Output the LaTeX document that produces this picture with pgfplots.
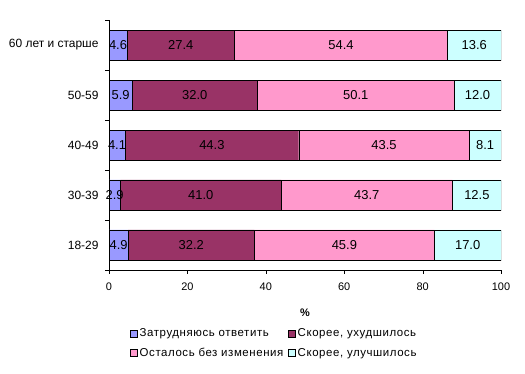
\documentclass[border=0pt]{standalone}
\usepackage{fontspec}
\setmainfont{Liberation Sans}
\newfontfamily\legfont[LetterSpace=5]{Liberation Sans}
\usepackage{pgfplots}
\usepackage{pgfplotstable}
\pgfplotsset{compat=1.18}
\definecolor{c1}{HTML}{9999FF}
\definecolor{c2}{HTML}{993366}
\definecolor{c3}{HTML}{FF99CC}
\definecolor{c4}{HTML}{CCFFFF}
\pgfplotstableread{
y a b c d
0 4.9 32.2 45.9 17.0
1 2.9 41.0 43.7 12.5
2 4.1 44.3 43.5 8.1
3 5.9 32.0 50.1 12.0
4 4.6 27.4 54.4 13.6
}\data
\pgfplotsset{common/.style={
  at={(109bp,104bp)}, anchor=south west,
  scale only axis, width=392bp, height=250bp,
  xmin=0, xmax=100, ymin=-0.5, ymax=4.5}}
\begin{document}
\begin{tikzpicture}[font=\fontsize{11}{13}\selectfont]
\path (0,0) rectangle (525bp,374bp);
\begin{axis}[
  common,
  xbar stacked, bar width=30bp,
  xtick={0,20,...,100},
  ytick={0,1,2,3,4},
  yticklabels={18-29,30-39,40-49,50-59,60 лет и старше},
  minor ytick={-0.5,0.5,1.5,2.5,3.5,4.5},
  major y tick style={draw=none},
  minor y tick style={black},
  major x tick style={black},
  tick align=outside,
  major tick length=4bp, minor tick length=4bp,
  axis x line*=bottom, axis y line*=left,
  axis line style={-, black},
  xlabel={\bfseries\%},
  xlabel style={yshift=-12bp},
  xticklabel style={yshift=-5bp, font=\fontsize{11}{13}\selectfont},
  yticklabel style={xshift=-3bp, font=\fontsize{12}{14}\selectfont},
  /pgf/number format/assume math mode=true,
  legend columns=2,
  legend cell align=left,
  legend style={draw=none, fill=none, at={(0.422,-0.218)}, anchor=north, row sep=6bp,
    font=\legfont\fontsize{11.5}{13}\selectfont,
    /tikz/every even column/.append style={column sep=3bp}},
  legend image code/.code={\draw[#1, draw=black] (0bp,-3.5bp) rectangle (7bp,3.5bp);},
]
\addplot[fill=c1, draw=black] table[x=a, y=y] {\data};
\addplot[fill=c2, draw=black] table[x=b, y=y] {\data};
\addplot[fill=c3, draw=black] table[x=c, y=y] {\data};
\addplot[fill=c4, draw=black] table[x=d, y=y] {\data};
\legend{Затрудняюсь ответить, {Скорее, ухудшилось}, Осталось без изменения, {Скорее, улучшилось}}
\end{axis}
\begin{axis}[
  common, hide axis,
  nodes near coords,
  nodes near coords align={center},
  every node near coord/.append style={font=\fontsize{13}{15}\selectfont, black, anchor=center,
    /pgf/number format/.cd, fixed, fixed zerofill, precision=1, assume math mode=true},
  point meta=explicit,
]
\addplot[draw=none, mark=none] table[x expr=\thisrow{a}/2, y=y, meta=a] {\data};
\addplot[draw=none, mark=none] table[x expr=\thisrow{a}+\thisrow{b}/2, y=y, meta=b] {\data};
\addplot[draw=none, mark=none] table[x expr=\thisrow{a}+\thisrow{b}+\thisrow{c}/2, y=y, meta=c] {\data};
\addplot[draw=none, mark=none] table[x expr=\thisrow{a}+\thisrow{b}+\thisrow{c}+\thisrow{d}/2, y=y, meta=d] {\data};
\end{axis}
\end{tikzpicture}
\end{document}
